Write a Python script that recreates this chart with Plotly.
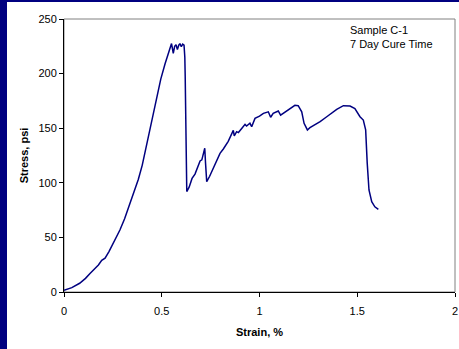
import plotly.graph_objects as go

strain = [0.0, 0.04, 0.08, 0.11, 0.133, 0.155, 0.176, 0.193, 0.21, 0.23, 0.252, 0.27, 0.286,
          0.31, 0.338, 0.36, 0.38, 0.40, 0.414, 0.43, 0.44, 0.455, 0.474, 0.495, 0.517, 0.535,
          0.55, 0.559, 0.566, 0.573, 0.58, 0.587, 0.593, 0.60, 0.607, 0.614, 0.618, 0.62, 0.624,
          0.627, 0.628, 0.64, 0.655, 0.67, 0.685, 0.696, 0.705, 0.715, 0.72, 0.724, 0.728, 0.73,
          0.745, 0.764, 0.78, 0.798, 0.815, 0.84, 0.866, 0.871, 0.883, 0.892, 0.91, 0.926, 0.934,
          0.951, 0.96, 0.977, 1.0, 1.02, 1.045, 1.057, 1.07, 1.096, 1.108, 1.139, 1.16, 1.181,
          1.198, 1.216, 1.228, 1.245, 1.258, 1.284, 1.31, 1.344, 1.37, 1.395, 1.429, 1.463,
          1.488, 1.514, 1.531, 1.543, 1.551, 1.56, 1.574, 1.59, 1.608]
stress = [1.5, 4, 8, 12.5, 17, 21, 24.7, 29, 31, 37, 44.6, 51, 56.8,
          67, 81, 92, 103, 116, 128, 140, 148, 162, 179, 195, 209, 220,
          227.5, 218.6, 225, 226.5, 222, 226, 227.5, 224.6, 227, 226, 215, 197, 148,
          104, 92, 96, 104, 108, 116, 120, 121, 127, 131.6, 118, 108, 101,
          106, 114, 121, 127, 131, 138, 148, 143, 146.8, 146, 150, 153.5, 152,
          154.5, 151.4, 159, 161, 163.6, 165, 160, 163.6, 165.8, 162, 166, 169, 171,
          170.6, 165, 154.5, 148.4, 150.5, 153, 156, 160.5, 164, 167.3, 170.6, 170.3,
          168, 160.5, 157.5, 148.4, 118, 93.4, 82.7, 78, 75.7]

x_ticks = [0, 0.5, 1, 1.5, 2]
x_tick_labels = ["0", "0.5", "1", "1.5", "2"]
y_ticks = [0, 50, 100, 150, 200, 250]

FONT = "Liberation Sans, Arial, sans-serif"
NAVY = "#000080"

fig = go.Figure()
fig.add_trace(go.Scatter(x=strain, y=stress, mode="lines",
                         line=dict(color=NAVY, width=1.5), showlegend=False))

W, H = 459, 349
L, R, T, B = 64, 4, 19, 57
pw, ph = W - L - R, H - T - B

fig.update_layout(
    width=W, height=H,
    margin=dict(l=L, r=R, t=T, b=B),
    paper_bgcolor="white", plot_bgcolor="white",
    font=dict(family=FONT, size=11, color="black"),
    xaxis=dict(range=[0, 2], tickvals=x_ticks, ticktext=x_tick_labels, automargin=False,
               showgrid=False, zeroline=False, showline=True, linecolor="black",
               linewidth=1, ticks="outside", ticklen=4, tickcolor="black",
               ticklabelstandoff=5,
               title=dict(text="<b>Strain, %</b>", font=dict(size=11), standoff=12)),
    yaxis=dict(range=[0, 250], tickvals=y_ticks, automargin=False,
               showgrid=False, zeroline=False, showline=True, linecolor="black",
               linewidth=1, ticks="outside", ticklen=4, tickcolor="black",
               title=dict(text="<b>Stress, psi</b>", font=dict(size=11), standoff=7)),
    shapes=[
        dict(type="rect", xref="paper", yref="paper", x0=0, x1=1, y0=0, y1=1,
             line=dict(color="#808080", width=1), layer="below"),
        dict(type="rect", xref="paper", yref="paper",
             x0=-L / pw, x1=-(L - 7) / pw, y0=-B / ph, y1=1 + T / ph,
             line=dict(width=0), fillcolor=NAVY),
        dict(type="rect", xref="paper", yref="paper",
             x0=-L / pw, x1=1 + R / pw, y0=1 + (T - 2) / ph, y1=1 + T / ph,
             line=dict(width=0), fillcolor=NAVY),
    ],
    annotations=[
        dict(text="Sample C-1<br>7 Day Cure Time", xref="paper", yref="paper",
             x=(348 - L) / pw, y=1 - (22 - T) / ph, xanchor="left", yanchor="top",
             showarrow=False, align="left", font=dict(size=11, family=FONT)),
    ],
)

fig.write_html("out.html", config={"displayModeBar": False},
               post_script="document.body.style.margin='0';document.body.style.overflow='hidden';")
